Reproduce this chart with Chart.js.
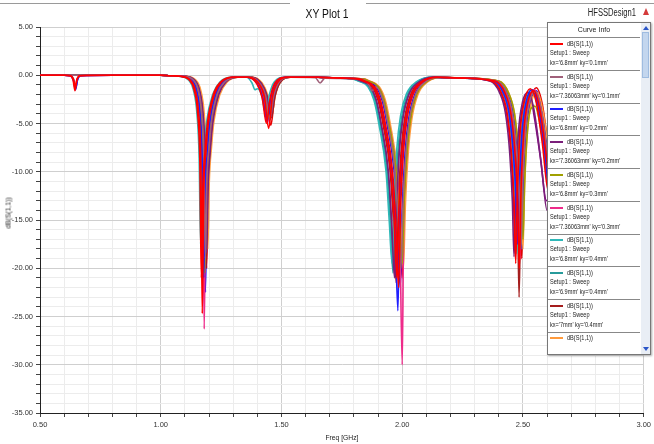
<!DOCTYPE html>
<html>
<head>
<meta charset="utf-8">
<script src="https://cdn.jsdelivr.net/npm/chart.js@4.4.0/dist/chart.umd.min.js"></script>
<style>
  body { margin: 0; background: #fff; }
  #wrap { position: relative; width: 654px; height: 444px; overflow: hidden;
          font-family: 'Liberation Sans', Arial, sans-serif; }
  #plot { position: absolute; left: 0; top: 0; }
  .topline { position: absolute; top: 3px; height: 1px; background: #9a9a9a; }
  #title { position: absolute; left: 327px; top: 8px; line-height: 12px; font-size: 12px; color: #111;
           transform: translateX(-50%) scaleX(0.86); white-space: nowrap; }
  #design { position: absolute; left: 636px; top: 8px; line-height: 10px; font-size: 10px; color: #222;
            transform: translateX(-100%) scaleX(0.76); transform-origin: right center; white-space: nowrap; }
  #warn { position: absolute; left: 643px; top: 8px; width: 0; height: 0;
          border-left: 3.5px solid transparent; border-right: 3.5px solid transparent;
          border-bottom: 7px solid #d43a3a; }
  #ytitle { position: absolute; left: 8px; top: 213px; font-size: 7.5px; color: #222;
            transform: translate(-50%, -50%) rotate(-90deg) scaleX(0.9); white-space: nowrap; }
  #xtitle { position: absolute; left: 342px; top: 433px; font-size: 7.5px; color: #222;
            transform: translateX(-50%) scaleX(0.9); white-space: nowrap; }
  #legend { position: absolute; left: 547px; top: 22px; width: 102px; height: 331px;
            background: #fff; border: 1px solid #777; box-shadow: 1px 1px 2px rgba(0,0,0,0.35);
            overflow: hidden; }
  #legend .clip { position: absolute; left: 0; top: 0; width: 93px; height: 321px; overflow: hidden; }
  #legend .head { position: absolute; left: 0; top: 0; width: 92px; height: 14px; line-height: 14px;
                  text-align: center; font-size: 7px; color: #222; border-bottom: 1px solid #888; }
  #legend .entry { position: absolute; left: 0; width: 92px; height: 32px; border-bottom: 1px solid #888; }
  #legend .swatch { position: absolute; left: 2px; top: 5px; width: 13px; height: 2px; }
  #legend .row { position: absolute; font-size: 7px; line-height: 9px; color: #222; white-space: nowrap;
                 transform: scaleX(0.8); transform-origin: left center; }
  #legend .sb { position: absolute; left: 93px; top: 0; width: 9px; height: 331px; background: #e9eef5; }
  #legend .thumb { position: absolute; left: 94px; top: 9px; width: 7px; height: 46px;
                   background: #c3d6ee; border: 1px solid #9fbce0; box-sizing: border-box; }
  #legend .up { position: absolute; left: 95px; top: 3px; width: 0; height: 0;
                border-left: 3px solid transparent; border-right: 3px solid transparent; border-bottom: 4px solid #2a55c8; }
  #legend .dn { position: absolute; left: 95px; top: 324px; width: 0; height: 0;
                border-left: 3px solid transparent; border-right: 3px solid transparent; border-top: 4px solid #2a55c8; }
</style>
</head>
<body>
<div id="wrap">
  <canvas id="plot" width="654" height="444"></canvas>
  <div class="topline" style="left:0;width:290px"></div>
  <div class="topline" style="left:366px;width:288px"></div>
  <div id="title">XY Plot 1</div>
  <div id="design">HFSSDesign1</div>
  <div id="warn"></div>
  <div id="ytitle">dB(S(1,1))</div>
  <div id="xtitle">Freq [GHz]</div>
  <div id="legend"></div>
</div>
<script>
// frequency [GHz], dB(S(1,1)) pairs
const kx68_ky01 = [[0.5,0],[0.6,0],[0.625,-0.05],[0.637,-0.5],[0.645,-1.6],[0.652,-0.5],[0.665,-0.05],[0.8,0],[1.0,0],[1.04,-0.05],
  [1.08,-0.1],[1.122,-0.5],[1.142,-1.5],[1.157,-4],[1.166,-9],[1.172,-24.7],[1.178,-12],[1.187,-8],[1.197,-5],[1.222,-2],[1.252,-0.7],[1.3,-0.2],
  [1.367,-0.2],[1.407,-0.9],[1.429,-2.2],[1.447,-5.5],[1.462,-2.3],[1.482,-0.8],[1.527,-0.2],[1.65,-0.2],[1.75,-0.3],
  [1.825,-0.4],[1.845,-0.6],[1.885,-1.2],[1.91,-2.6],[1.93,-5],[1.96,-10],[1.973,-15],[1.985,-22],[1.993,-14],[2.005,-8],[2.02,-4.5],[2.045,-2],[2.085,-0.7],[2.145,-0.2],[2.25,-0.3],
  [2.385,-0.6],[2.425,-1.8],[2.45,-4],[2.467,-8],[2.478,-13],[2.485,-20],[2.492,-12],[2.503,-6],[2.52,-2.8],[2.545,-1.6],[2.57,-3.5],[2.595,-8],[2.62,-13],[2.66,-7],[2.75,-3],[2.9,-1.8],[3.0,-1.5]];

const kx736_ky01 = [[0.5,0],[0.8,0],[1.0,0],[1.04,-0.05],
  [1.093,-0.1],[1.135,-0.5],[1.155,-1.5],[1.17,-4],[1.179,-8.5],[1.185,-19],[1.191,-11],[1.2,-7.5],[1.21,-4.8],[1.235,-1.9],[1.265,-0.7],[1.313,-0.2],
  [1.372,-0.2],[1.412,-0.9],[1.434,-2.1],[1.452,-4.6],[1.467,-2.2],[1.487,-0.8],[1.532,-0.2],[1.64,-0.25],[1.66,-0.8],[1.68,-0.3],[1.78,-0.35],
  [1.835,-0.45],[1.862,-1.0],[1.875,-1.6],[1.89,-1.2],[1.92,-2.6],[1.94,-5],[1.97,-10],[1.983,-15],[1.995,-20],[2.003,-13.5],[2.015,-8],[2.03,-4.5],[2.055,-2],[2.095,-0.7],[2.155,-0.2],[2.25,-0.3],
  [2.392,-0.6],[2.432,-1.8],[2.457,-4],[2.474,-8],[2.485,-12.5],[2.492,-18],[2.499,-11.5],[2.51,-6],[2.527,-2.8],[2.552,-1.7],[2.577,-3.8],[2.602,-8.5],[2.627,-13],[2.68,-7.5],[2.78,-3.2],[2.9,-2],[3.0,-1.6]];

const kx68_ky02 = [[0.5,0],[0.6,0],[0.625,-0.05],[0.638,-0.4],[0.648,-1.3],[0.656,-0.4],[0.668,-0.05],[0.8,0],[1.0,0],[1.04,-0.05],
  [1.086,-0.1],[1.128,-0.5],[1.148,-1.5],[1.163,-4],[1.172,-9],[1.178,-21],[1.184,-12],[1.193,-8],[1.203,-5],[1.228,-2],[1.258,-0.7],[1.306,-0.2],
  [1.36,-0.2],[1.4,-0.9],[1.422,-2.3],[1.44,-4.8],[1.455,-2.4],[1.475,-0.8],[1.52,-0.2],[1.65,-0.2],[1.75,-0.3],
  [1.822,-0.4],[1.842,-0.6],[1.882,-1.2],[1.907,-2.6],[1.927,-5],[1.957,-10],[1.97,-15],[1.982,-24.4],[1.99,-14],[2.002,-8],[2.017,-4.5],[2.042,-2],[2.082,-0.7],[2.142,-0.2],[2.25,-0.3],
  [2.378,-0.6],[2.418,-1.8],[2.443,-4],[2.46,-8],[2.471,-12.5],[2.478,-17.5],[2.485,-11.5],[2.496,-6],[2.513,-2.8],[2.538,-1.5],[2.563,-3.2],[2.588,-7.5],[2.613,-12.5],[2.67,-7],[2.77,-3],[2.9,-1.8],[3.0,-1.5]];

const kx736_ky02 = [[0.5,0],[0.8,0],[1.0,0],[1.04,-0.05],
  [1.098,-0.1],[1.14,-0.5],[1.16,-1.5],[1.175,-4],[1.184,-8.5],[1.19,-18.4],[1.196,-11.5],[1.205,-7.8],[1.215,-5],[1.24,-2],[1.27,-0.7],[1.318,-0.2],
  [1.375,-0.2],[1.415,-0.8],[1.437,-2.0],[1.455,-4.2],[1.47,-2.1],[1.49,-0.7],[1.535,-0.2],[1.65,-0.2],[1.72,-0.3],
  [1.808,-0.4],[1.828,-0.6],[1.868,-1.2],[1.893,-2.6],[1.913,-5],[1.943,-10],[1.956,-15],[1.968,-21],[1.976,-14],[1.988,-8],[2.003,-4.5],[2.028,-2],[2.068,-0.7],[2.128,-0.2],[2.25,-0.3],
  [2.363,-0.6],[2.403,-1.8],[2.428,-4],[2.445,-8],[2.456,-13],[2.463,-18.8],[2.47,-12],[2.481,-6],[2.498,-2.8],[2.52,-1.8],[2.545,-3.5],[2.575,-9],[2.6,-14],[2.65,-8],[2.75,-3],[2.9,-1.8],[3.0,-1.5]];

const kx68_ky03 = [[0.5,0],[0.8,0],[1.0,0],[1.04,-0.05],
  [1.09,-0.1],[1.132,-0.5],[1.152,-1.5],[1.167,-4],[1.176,-9],[1.182,-20.5],[1.188,-12],[1.197,-8],[1.207,-5],[1.232,-2],[1.262,-0.7],[1.31,-0.2],
  [1.368,-0.2],[1.408,-0.9],[1.43,-2.2],[1.448,-4.5],[1.463,-2.2],[1.483,-0.8],[1.528,-0.2],[1.65,-0.2],[1.75,-0.3],
  [1.84,-0.4],[1.86,-0.6],[1.9,-1.2],[1.925,-2.6],[1.945,-5],[1.975,-10],[1.988,-15],[2.0,-19.5],[2.008,-13],[2.02,-8],[2.035,-4.5],[2.06,-2],[2.1,-0.7],[2.16,-0.2],[2.26,-0.3],
  [2.4,-0.6],[2.44,-1.8],[2.465,-4],[2.482,-8],[2.493,-12],[2.5,-17],[2.507,-11],[2.518,-6],[2.532,-3.5],[2.55,-3.2],[2.57,-5],[2.595,-9],[2.62,-13],[2.68,-7],[2.78,-3],[2.9,-1.8],[3.0,-1.5]];

const kx736_ky03 = [[0.5,0],[0.8,0],[1.0,0],[1.04,-0.05],
  [1.088,-0.1],[1.13,-0.5],[1.15,-1.5],[1.165,-4],[1.174,-9],[1.18,-26.3],[1.186,-12.5],[1.195,-8],[1.205,-5],[1.23,-2],[1.26,-0.7],[1.308,-0.2],
  [1.363,-0.2],[1.403,-0.9],[1.425,-2.3],[1.443,-4.9],[1.458,-2.4],[1.478,-0.8],[1.523,-0.2],[1.65,-0.2],[1.75,-0.3],
  [1.84,-0.4],[1.86,-0.6],[1.9,-1.2],[1.925,-2.6],[1.945,-5],[1.975,-10],[1.99,-16],[2.0,-30],[2.006,-15],[2.018,-8.5],[2.033,-4.6],[2.058,-2],[2.098,-0.7],[2.158,-0.2],[2.26,-0.3],
  [2.388,-0.6],[2.428,-1.8],[2.453,-4],[2.47,-8],[2.481,-12.5],[2.488,-19],[2.495,-12],[2.506,-6],[2.523,-2.8],[2.548,-1.5],[2.573,-3.3],[2.598,-8],[2.623,-13],[2.68,-7],[2.78,-3],[2.9,-1.8],[3.0,-1.5]];

const kx68_ky04 = [[0.5,0],[0.8,0],[1.0,0],[1.04,-0.05],
  [1.073,-0.1],[1.115,-0.5],[1.135,-1.5],[1.15,-4],[1.159,-8.5],[1.165,-17.5],[1.171,-11],[1.18,-7.5],[1.19,-4.8],[1.215,-2],[1.245,-0.7],[1.293,-0.2],
  [1.355,-0.2],[1.378,-0.8],[1.39,-1.5],[1.4,-1.4],[1.417,-2.0],[1.435,-4.0],[1.45,-2.0],[1.47,-0.7],[1.515,-0.2],[1.65,-0.2],[1.72,-0.3],
  [1.798,-0.4],[1.818,-0.6],[1.858,-1.2],[1.883,-2.6],[1.903,-5],[1.933,-10],[1.946,-15],[1.958,-19.5],[1.966,-13],[1.978,-7.5],[1.993,-4.2],[2.018,-1.9],[2.058,-0.7],[2.118,-0.2],[2.24,-0.3],
  [2.375,-0.6],[2.415,-1.8],[2.44,-4],[2.457,-8],[2.468,-13],[2.475,-18.5],[2.482,-12],[2.493,-6],[2.51,-2.8],[2.535,-1.5],[2.56,-3.2],[2.585,-7.5],[2.61,-12.5],[2.67,-7],[2.77,-3],[2.9,-1.8],[3.0,-1.5]];

const kx69_ky04 = [[0.5,0],[0.8,0],[1.0,0],[1.04,-0.05],
  [1.083,-0.1],[1.125,-0.5],[1.145,-1.5],[1.16,-4],[1.169,-9],[1.175,-19],[1.181,-11.5],[1.19,-7.8],[1.2,-5],[1.225,-2],[1.255,-0.7],[1.303,-0.2],
  [1.37,-0.2],[1.41,-0.9],[1.432,-2.1],[1.45,-4.3],[1.465,-2.1],[1.485,-0.8],[1.53,-0.2],[1.65,-0.2],[1.75,-0.3],
  [1.802,-0.4],[1.822,-0.6],[1.862,-1.2],[1.887,-2.6],[1.907,-5],[1.937,-10],[1.95,-15],[1.962,-20.5],[1.97,-13.5],[1.982,-8],[1.997,-4.5],[2.022,-2],[2.062,-0.7],[2.122,-0.2],[2.24,-0.3],
  [2.382,-0.6],[2.422,-1.8],[2.447,-4],[2.464,-8],[2.475,-12.5],[2.482,-17.8],[2.489,-11.5],[2.5,-6],[2.517,-2.8],[2.542,-1.8],[2.567,-4],[2.592,-8.5],[2.617,-13],[2.67,-7],[2.77,-3],[2.9,-1.8],[3.0,-1.5]];

const kx70_ky04 = [[0.5,0],[0.8,0],[1.0,0],[1.04,-0.05],
  [1.096,-0.1],[1.138,-0.5],[1.158,-1.5],[1.173,-4],[1.182,-9],[1.188,-20],[1.194,-12],[1.203,-8],[1.213,-5],[1.238,-2],[1.268,-0.7],[1.316,-0.2],
  [1.378,-0.2],[1.418,-0.9],[1.44,-2.1],[1.458,-4.4],[1.473,-2.2],[1.493,-0.8],[1.538,-0.2],[1.65,-0.2],[1.75,-0.3],
  [1.815,-0.4],[1.835,-0.6],[1.875,-1.2],[1.9,-2.6],[1.92,-5],[1.95,-10],[1.963,-15],[1.975,-21.5],[1.983,-14],[1.995,-8],[2.01,-4.5],[2.035,-2],[2.075,-0.7],[2.135,-0.2],[2.25,-0.3],
  [2.384,-0.6],[2.424,-1.8],[2.449,-4],[2.466,-8],[2.477,-13],[2.484,-23],[2.491,-12.5],[2.502,-6],[2.519,-2.8],[2.544,-1.6],[2.569,-3.5],[2.594,-8],[2.619,-13],[2.68,-7],[2.78,-3],[2.9,-1.8],[3.0,-1.5]];

const kx71_ky04 = [[0.5,0],[0.8,0],[1.0,0],[1.04,-0.05],
  [1.103,-0.1],[1.145,-0.5],[1.165,-1.5],[1.18,-4],[1.189,-8.5],[1.195,-18],[1.201,-11],[1.21,-7.5],[1.22,-4.8],[1.245,-2],[1.275,-0.7],[1.323,-0.2],
  [1.38,-0.2],[1.42,-0.8],[1.442,-2.0],[1.46,-4.0],[1.475,-2.0],[1.495,-0.7],[1.54,-0.2],[1.65,-0.2],[1.75,-0.3],
  [1.845,-0.4],[1.865,-0.6],[1.905,-1.2],[1.93,-2.6],[1.95,-5],[1.98,-10],[1.993,-15],[2.005,-20],[2.013,-13.5],[2.025,-8],[2.04,-4.5],[2.065,-2],[2.105,-0.7],[2.165,-0.2],[2.27,-0.3],
  [2.4,-0.6],[2.44,-1.8],[2.465,-4],[2.482,-8],[2.493,-12.5],[2.5,-18],[2.507,-11.5],[2.518,-6],[2.535,-2.8],[2.56,-1.8],[2.585,-4],[2.61,-8.5],[2.635,-13],[2.69,-7],[2.79,-3],[2.9,-1.8],[3.0,-1.5]];

const kx72_ky04 = [[0.5,0],[0.6,0],[0.628,-0.05],[0.639,-0.4],[0.646,-1.2],[0.654,-0.4],[0.666,-0.05],[0.8,0],[1.0,0],[1.04,-0.05],
  [1.076,-0.1],[1.118,-0.5],[1.138,-1.5],[1.153,-4],[1.162,-9],[1.168,-21],[1.174,-12],[1.183,-8],[1.193,-5],[1.218,-2],[1.248,-0.7],[1.296,-0.2],
  [1.358,-0.2],[1.398,-0.9],[1.42,-2.3],[1.438,-5.0],[1.453,-2.4],[1.473,-0.8],[1.518,-0.2],[1.65,-0.2],[1.75,-0.3],
  [1.818,-0.4],[1.838,-0.6],[1.878,-1.2],[1.903,-2.6],[1.923,-5],[1.953,-10],[1.966,-15],[1.978,-21],[1.986,-14],[1.998,-8],[2.013,-4.5],[2.038,-2],[2.078,-0.7],[2.138,-0.2],[2.25,-0.3],
  [2.37,-0.6],[2.41,-1.8],[2.435,-4],[2.452,-8],[2.463,-13],[2.47,-19.5],[2.477,-12],[2.488,-6],[2.505,-2.8],[2.53,-1.4],[2.555,-2.8],[2.58,-7],[2.605,-12],[2.67,-7],[2.77,-3],[2.9,-1.8],[3.0,-1.5]];

const kx73_ky04 = [[0.5,0],[0.6,0],[0.626,-0.05],[0.638,-0.5],[0.647,-1.5],[0.655,-0.5],[0.667,-0.05],[0.8,0],[1.0,0],[1.04,-0.05],
  [1.093,-0.1],[1.135,-0.5],[1.155,-1.5],[1.17,-4],[1.179,-9],[1.185,-22.5],[1.191,-12],[1.2,-8],[1.21,-5],[1.235,-2],[1.265,-0.7],[1.313,-0.2],
  [1.372,-0.2],[1.412,-0.9],[1.434,-2.2],[1.452,-4.6],[1.467,-2.3],[1.487,-0.8],[1.532,-0.2],[1.65,-0.2],[1.75,-0.3],
  [1.832,-0.4],[1.852,-0.6],[1.892,-1.2],[1.917,-2.6],[1.937,-5],[1.967,-10],[1.98,-15],[1.992,-22],[2.0,-14],[2.012,-8],[2.027,-4.5],[2.052,-2],[2.092,-0.7],[2.152,-0.2],[2.26,-0.3],
  [2.395,-0.6],[2.435,-1.8],[2.46,-4],[2.477,-8],[2.488,-12.5],[2.495,-18],[2.502,-11.5],[2.513,-6],[2.53,-2.8],[2.555,-1.6],[2.58,-3.6],[2.605,-8],[2.63,-13],[2.69,-7],[2.79,-3],[2.9,-1.8],[3.0,-1.5]];

const kx736_ky04 = [[0.5,0],[0.8,0],[1.0,0],[1.04,-0.05],
  [1.084,-0.1],[1.126,-0.5],[1.146,-1.5],[1.161,-4],[1.17,-9],[1.176,-19.5],[1.182,-11.5],[1.191,-7.8],[1.201,-5],[1.226,-2],[1.256,-0.7],[1.304,-0.2],
  [1.364,-0.2],[1.404,-0.9],[1.426,-2.2],[1.444,-4.7],[1.459,-2.3],[1.479,-0.8],[1.524,-0.2],[1.65,-0.2],[1.75,-0.3],
  [1.805,-0.4],[1.825,-0.6],[1.865,-1.2],[1.89,-2.6],[1.91,-5],[1.94,-10],[1.953,-15],[1.965,-20],[1.973,-13.5],[1.985,-8],[2.0,-4.5],[2.025,-2],[2.065,-0.7],[2.125,-0.2],[2.24,-0.3],
  [2.368,-0.6],[2.408,-1.8],[2.433,-4],[2.45,-8],[2.461,-13],[2.468,-18.5],[2.475,-12],[2.486,-6],[2.503,-2.8],[2.528,-2],[2.548,-4.5],[2.572,-8.5],[2.597,-13],[2.66,-7],[2.76,-3],[2.9,-1.8],[3.0,-1.5]];

const kx68_ky05 = [[0.5,0],[0.8,0],[1.0,0],[1.04,-0.05],
  [1.098,-0.1],[1.14,-0.5],[1.16,-1.5],[1.175,-4],[1.184,-9],[1.19,-20],[1.196,-12],[1.205,-8],[1.215,-5],[1.24,-2],[1.27,-0.7],[1.318,-0.2],
  [1.376,-0.2],[1.416,-0.9],[1.438,-2.3],[1.456,-5.2],[1.471,-2.4],[1.491,-0.8],[1.536,-0.2],[1.65,-0.2],[1.75,-0.3],
  [1.84,-0.4],[1.86,-0.6],[1.9,-1.2],[1.925,-2.6],[1.945,-5],[1.975,-10],[1.988,-15],[2.0,-21],[2.008,-14],[2.02,-8],[2.035,-4.5],[2.06,-2],[2.1,-0.7],[2.16,-0.2],[2.26,-0.3],
  [2.395,-0.6],[2.435,-1.8],[2.46,-4],[2.477,-8],[2.488,-13],[2.495,-19],[2.502,-12],[2.513,-6],[2.53,-2.8],[2.555,-1.3],[2.58,-3],[2.605,-7.5],[2.63,-12.5],[2.69,-7],[2.79,-3],[2.9,-1.8],[3.0,-1.5]];

const curves = [kx68_ky01, kx736_ky01, kx68_ky02, kx736_ky02, kx68_ky03, kx736_ky03, kx68_ky04,
                kx69_ky04, kx70_ky04, kx71_ky04, kx72_ky04, kx73_ky04, kx736_ky04, kx68_ky05];
const curveLabels = ["kx='6.8mm' ky='0.1mm'", "kx='7.36063mm' ky='0.1mm'", "kx='6.8mm' ky='0.2mm'",
  "kx='7.36063mm' ky='0.2mm'", "kx='6.8mm' ky='0.3mm'", "kx='7.36063mm' ky='0.3mm'", "kx='6.8mm' ky='0.4mm'",
  "kx='6.9mm' ky='0.4mm'", "kx='7mm' ky='0.4mm'", "kx='7.1mm' ky='0.4mm'", "kx='7.2mm' ky='0.4mm'",
  "kx='7.3mm' ky='0.4mm'", "kx='7.36063mm' ky='0.4mm'", "kx='6.8mm' ky='0.5mm'"];
const curveColors = ['#ff0000', '#a0607a', '#1f1fff', '#7a1f7a', '#a0a000', '#ee2b8a', '#2eb8b8',
                     '#279b9b', '#a51d1d', '#ff9a3c', '#ff0000', '#0000ff', '#800080', '#e60000'];

const FONT = "'Liberation Sans', Arial, sans-serif";
const MAJOR = '#cfcfcf';
const MINOR = '#ececec';

// -----------------------------------------------------------------------
// Plot
// -----------------------------------------------------------------------
const datasets = curves.map((pts, i) => ({
  label: curveLabels[i],
  data: pts.map(p => ({ x: p[0], y: p[1] })),
  borderColor: curveColors[i],
  backgroundColor: curveColors[i],
  borderWidth: 1.6,
  pointRadius: 0,
  fill: false,
  cubicInterpolationMode: 'monotone',
  order: curveColors[i] === '#ff0000' ? 0 : 1,
}));

new Chart(document.getElementById('plot'), {
  type: 'line',
  data: { datasets },
  options: {
    responsive: false,
    animation: false,
    layout: { padding: { top: 27, right: 8, left: 0, bottom: 0 } },
    plugins: { legend: { display: false }, tooltip: { enabled: false } },
    scales: {
      x: {
        type: 'linear', min: 0.5, max: 3.0,
        afterFit: s => { s.height = 31; },
        ticks: {
          stepSize: 0.1, autoSkip: false, maxRotation: 0, padding: 3, color: '#333',
          font: { family: FONT, size: 7.5 },
          callback: v => (Math.round(v * 10) % 5 === 0 ? v.toFixed(2) : ''),
        },
        grid: {
          color: c => (c.tick && Math.round(c.tick.value * 10) % 5 === 0 ? MAJOR : MINOR),
          drawTicks: true, tickLength: 4, tickColor: '#444',
        },
        border: { color: '#222', width: 1 },
      },
      y: {
        min: -35, max: 5,
        afterFit: s => { s.width = 40; },
        ticks: {
          stepSize: 1, autoSkip: false, padding: 3, color: '#333',
          font: { family: FONT, size: 7.5 },
          callback: v => (Math.round(v) % 5 === 0 ? v.toFixed(2) : ''),
        },
        grid: {
          color: c => (c.tick && Math.round(c.tick.value) % 5 === 0 ? MAJOR : MINOR),
          drawTicks: true, tickLength: 4, tickColor: '#444',
        },
        border: { color: '#222', width: 1 },
      },
    },
  },
});

// -----------------------------------------------------------------------
// Curve Info box (HFSS style, scrolled to top)
// -----------------------------------------------------------------------
const box = document.getElementById('legend');
let html = '<div class="clip"><div class="head">Curve Info</div>';
curveLabels.forEach((lab, i) => {
  const top = 15 + i * 32.7;
  html += '<div class="entry" style="top:' + top + 'px">' +
    '<div class="swatch" style="background:' + curveColors[i] + '"></div>' +
    '<div class="row" style="left:19px;top:1px">dB(S(1,1))</div>' +
    '<div class="row" style="left:2px;top:10px">Setup1 : Sweep</div>' +
    '<div class="row" style="left:2px;top:20px">' + lab + '</div></div>';
});
html += '</div><div class="sb"></div><div class="thumb"></div><div class="up"></div><div class="dn"></div>';
box.innerHTML = html;
</script>
</body>
</html>
